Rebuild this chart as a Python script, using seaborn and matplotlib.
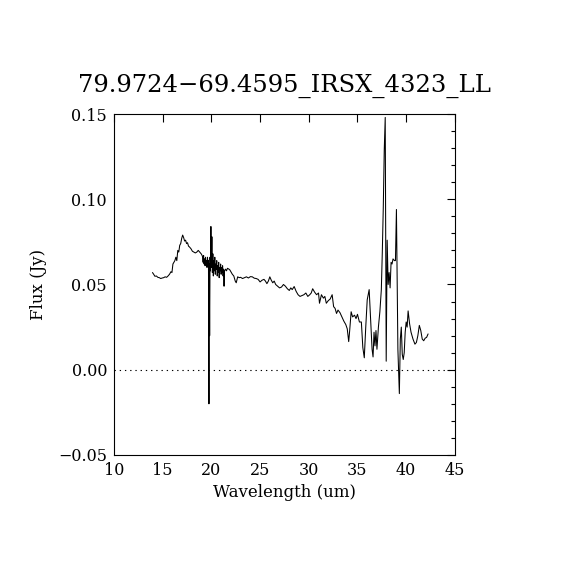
import matplotlib
matplotlib.use("Agg")
import matplotlib.pyplot as plt
import seaborn as sns
import pandas as pd
from matplotlib.ticker import MultipleLocator, FuncFormatter

title = "79.9724\u221269.4595_IRSX_4323_LL"
x_label = "Wavelength (um)"
y_label = "Flux (Jy)"

# spectrum in short segments (wavelength um, flux Jy)
wave_a = [13.95, 14.05, 14.2, 14.35, 14.5, 14.65, 14.8, 14.95, 15.1, 15.25]
flux_a = [0.0570, 0.0562, 0.0548, 0.0550, 0.0542, 0.0540, 0.0535, 0.0538, 0.0540, 0.0545]
wave_b = [15.4, 15.55, 15.7, 15.85, 15.95, 16.05, 16.15, 16.25, 16.35, 16.45]
flux_b = [0.0542, 0.0550, 0.0560, 0.0575, 0.0570, 0.0620, 0.0630, 0.0640, 0.0660, 0.0640]
wave_c = [16.55, 16.65, 16.75, 16.85, 16.95, 17.05, 17.15, 17.25, 17.35, 17.45]
flux_c = [0.0700, 0.0690, 0.0730, 0.0740, 0.0770, 0.0790, 0.0775, 0.0755, 0.0760, 0.0740]
wave_d = [17.55, 17.65, 17.75, 17.9, 18.05, 18.2, 18.35, 18.5, 18.65, 18.8]
flux_d = [0.0745, 0.0725, 0.0720, 0.0710, 0.0695, 0.0690, 0.0685, 0.0690, 0.0700, 0.0690]
wave_e = [18.95, 19.05, 19.10, 19.15, 19.20, 19.25, 19.30, 19.35, 19.40, 19.45]
flux_e = [0.0680, 0.0670, 0.0660, 0.0630, 0.0670, 0.0620, 0.0650, 0.0610, 0.0660, 0.0620]
wave_f = [19.50, 19.55, 19.60, 19.65, 19.70, 19.75, 19.78, 19.82, 19.86, 19.90]
flux_f = [0.0640, 0.0600, 0.0660, 0.0610, 0.0640, -0.0200, 0.0620, 0.0200, 0.0660, 0.0580]
wave_g = [19.95, 20.00, 20.05, 20.10, 20.15, 20.20, 20.25, 20.30, 20.35, 20.40]
flux_g = [0.0840, 0.0600, 0.0780, 0.0570, 0.0680, 0.0550, 0.0640, 0.0580, 0.0660, 0.0560]
wave_h = [20.45, 20.50, 20.55, 20.60, 20.65, 20.70, 20.75, 20.80, 20.85, 20.90]
flux_h = [0.0620, 0.0590, 0.0640, 0.0550, 0.0610, 0.0570, 0.0630, 0.0540, 0.0600, 0.0580]
wave_i = [20.95, 21.00, 21.05, 21.10, 21.15, 21.20, 21.25, 21.30, 21.35, 21.45]
flux_i = [0.0620, 0.0560, 0.0600, 0.0570, 0.0610, 0.0550, 0.0590, 0.0490, 0.0580, 0.0590]
wave_j = [21.55, 21.65, 21.80, 21.90, 22.00, 22.15, 22.30, 22.45, 22.55, 22.70]
flux_j = [0.0580, 0.0595, 0.0590, 0.0585, 0.0575, 0.0560, 0.0550, 0.0520, 0.0510, 0.0545]
wave_k = [22.85, 23.0, 23.2, 23.4, 23.6, 23.8, 24.0, 24.2, 24.4, 24.6]
flux_k = [0.0540, 0.0542, 0.0535, 0.0540, 0.0545, 0.0538, 0.0546, 0.0545, 0.0537, 0.0535]
wave_l = [24.8, 25.0, 25.2, 25.4, 25.55, 25.7, 25.85, 26.0, 26.15, 26.3]
flux_l = [0.0530, 0.0515, 0.0525, 0.0530, 0.0520, 0.0505, 0.0520, 0.0545, 0.0525, 0.0510]
wave_m = [26.45, 26.6, 26.8, 27.0, 27.2, 27.4, 27.6, 27.8, 28.0, 28.15]
flux_m = [0.0520, 0.0500, 0.0490, 0.0480, 0.0485, 0.0500, 0.0490, 0.0475, 0.0465, 0.0480]
wave_n = [28.3, 28.5, 28.7, 28.9, 29.1, 29.3, 29.5, 29.7, 29.9, 30.1]
flux_n = [0.0470, 0.0488, 0.0460, 0.0440, 0.0430, 0.0435, 0.0440, 0.0450, 0.0430, 0.0440]
wave_o = [30.25, 30.4, 30.6, 30.8, 31.0, 31.1, 31.3, 31.5, 31.65, 31.8]
flux_o = [0.0450, 0.0475, 0.0455, 0.0440, 0.0450, 0.0390, 0.0440, 0.0420, 0.0430, 0.0390]
wave_p = [32.0, 32.2, 32.4, 32.55, 32.7, 32.85, 33.0, 33.2, 33.4, 33.6]
flux_p = [0.0405, 0.0415, 0.0440, 0.0370, 0.0360, 0.0330, 0.0350, 0.0335, 0.0310, 0.0285]
wave_q = [33.8, 33.95, 34.1, 34.2, 34.35, 34.5, 34.7, 34.85, 35.0, 35.2]
flux_q = [0.0265, 0.0240, 0.0165, 0.0230, 0.0340, 0.0310, 0.0320, 0.0300, 0.0325, 0.0280]
wave_r = [35.4, 35.55, 35.7, 35.85, 36.0, 36.2, 36.35, 36.5, 36.6, 36.7]
flux_r = [0.0280, 0.0130, 0.0070, 0.0250, 0.0410, 0.0470, 0.0290, 0.0120, 0.0075, 0.0220]
wave_s = [36.8, 36.9, 37.0, 37.15, 37.3, 37.45, 37.55, 37.65, 37.75, 37.85]
flux_s = [0.0140, 0.0230, 0.0120, 0.0250, 0.0340, 0.0470, 0.0690, 0.0950, 0.1290, 0.1480]
wave_t = [37.95, 38.05, 38.15, 38.25, 38.35, 38.45, 38.55, 38.65, 38.8, 38.9]
flux_t = [0.0050, 0.0760, 0.0500, 0.0570, 0.0480, 0.0630, 0.0620, 0.0650, 0.0640, 0.0640]
wave_u = [39.0, 39.15, 39.3, 39.4, 39.5, 39.6, 39.7, 39.8, 39.9, 40.0]
flux_u = [0.0940, 0.0120, -0.0140, 0.0180, 0.0250, 0.0090, 0.0060, 0.0100, 0.0220, 0.0280]
wave_v = [40.1, 40.2, 40.35, 40.5, 40.7, 40.9, 41.05, 41.2, 41.35, 41.5]
flux_v = [0.0250, 0.0345, 0.0270, 0.0220, 0.0180, 0.0150, 0.0160, 0.0200, 0.0260, 0.0230]
wave_w = [41.65, 41.8, 41.95, 42.1, 42.25]
flux_w = [0.0180, 0.0170, 0.0185, 0.0190, 0.0210]

wave = (wave_a + wave_b + wave_c + wave_d + wave_e + wave_f + wave_g + wave_h
        + wave_i + wave_j + wave_k + wave_l + wave_m + wave_n + wave_o + wave_p
        + wave_q + wave_r + wave_s + wave_t + wave_u + wave_v + wave_w)
flux = (flux_a + flux_b + flux_c + flux_d + flux_e + flux_f + flux_g + flux_h
        + flux_i + flux_j + flux_k + flux_l + flux_m + flux_n + flux_o + flux_p
        + flux_q + flux_r + flux_s + flux_t + flux_u + flux_v + flux_w)

df = pd.DataFrame({"wave": wave, "flux": flux})

sns.set_style("white")
plt.rcParams["font.family"] = ["DejaVu Serif"]
plt.rcParams["text.color"] = "black"
plt.rcParams["axes.labelcolor"] = "black"
plt.rcParams["xtick.color"] = "black"
plt.rcParams["ytick.color"] = "black"

fig = plt.figure(figsize=(5.7, 5.7), dpi=100)
ax = fig.add_axes([0.2, 0.2018, 0.598, 0.5982])

sns.lineplot(data=df, x="wave", y="flux", ax=ax, color="black", linewidth=0.75,
             sort=False, estimator=None)
ax.axhline(0.0, color="black", linewidth=0.8, linestyle=(0, (1.2, 3.5)))

ax.set_xlim(10, 45)
ax.set_ylim(-0.05, 0.15)
ax.xaxis.set_major_locator(MultipleLocator(5))
ax.yaxis.set_major_locator(MultipleLocator(0.05))
ax.yaxis.set_minor_locator(MultipleLocator(0.01))
ax.yaxis.set_major_formatter(FuncFormatter(
    lambda v, p: ("%.2f" % v).replace("-", "\u2212")))
ax.tick_params(axis="both", which="both", direction="in", top=True, right=True,
               labelsize=11.5, colors="black", width=0.8)
ax.tick_params(axis="both", which="major", length=5.5, pad=5)
ax.tick_params(axis="y", which="minor", length=3)
for s in ax.spines.values():
    s.set_color("black")
    s.set_linewidth(0.8)

ax.set_xlabel(x_label, fontsize=12, labelpad=4, color="black")
ax.set_ylabel(y_label, fontsize=12, labelpad=8, color="black")
ax.set_title(title, fontsize=17.5, pad=16, color="black")

fig.savefig("out.png", dpi=100, facecolor="white")
